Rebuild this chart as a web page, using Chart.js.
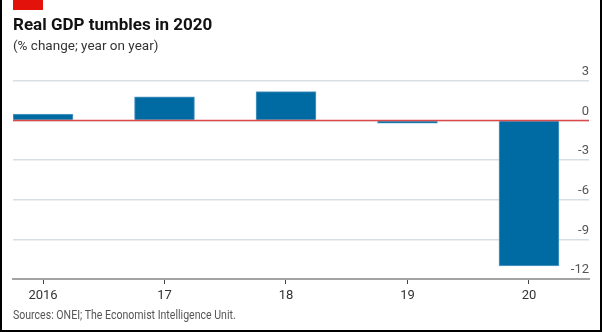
<!DOCTYPE html>
<html>
<head>
<meta charset="utf-8">
<script src="https://cdn.jsdelivr.net/npm/chart.js@4/dist/chart.umd.min.js"></script>
<style>
  html, body { margin: 0; padding: 0; background: #fff; }
  #wrap { position: relative; width: 602px; height: 332px; overflow: hidden; background: #fff; }
  #frame { position: absolute; left: 0; top: -2px; width: 598px; height: 330px; border: 2px solid #000; pointer-events: none; }
  #redbar { position: absolute; left: 13px; top: 0; width: 30px; height: 10px; background: #e3120b; }
  #title { position: absolute; left: 13px; top: 16px; font: bold 17px Roboto, sans-serif; color: #121212; line-height: 17px; white-space: nowrap; }
  #subtitle { position: absolute; left: 13px; top: 38px; font: 13.5px Roboto, sans-serif; color: #333; line-height: 14px; white-space: nowrap; }
  #source { position: absolute; left: 13px; top: 309px; font: 12px Roboto, sans-serif; color: #555; line-height: 12px; white-space: nowrap; transform: scaleX(0.88); transform-origin: 0 0; }
  #chartbox { position: absolute; left: 0; top: 0; width: 602px; height: 332px; }
</style>
</head>
<body>
<div id="wrap">
  <div id="chartbox"><canvas id="c" width="602" height="332"></canvas></div>
  <div id="redbar"></div>
  <div id="title">Real GDP tumbles in 2020</div>
  <div id="subtitle">(% change; year on year)</div>
  <div id="source">Sources: ONEI; The Economist Intelligence Unit.</div>
  <div id="frame"></div>
</div>
<script>
const categories = ["2016", "17", "18", "19", "20"];
const gdpChange = [0.5, 1.8, 2.2, -0.2, -11.0];
const yTicks = [-12, -9, -6, -3, 0, 3];

const zeroLine = {
  id: 'zeroLine',
  afterDatasetsDraw(chart) {
    const { ctx, chartArea, scales } = chart;
    const y = scales.y.getPixelForValue(0);
    ctx.save();
    ctx.strokeStyle = '#dc4a4a';
    ctx.lineWidth = 1.5;
    ctx.beginPath();
    ctx.moveTo(chartArea.left, y);
    ctx.lineTo(chartArea.right, y);
    ctx.stroke();
    ctx.restore();
  }
};

new Chart(document.getElementById('c'), {
  type: 'bar',
  data: {
    datasets: [{
      data: categories.map((c, i) => ({ x: i, y: gdpChange[i] })),
      backgroundColor: '#006ba2',
      borderColor: '#5a9cc6',
      borderWidth: 1,
      barThickness: 60
    }]
  },
  options: {
    responsive: false,
    animation: false,
    events: [],
    layout: { padding: { left: 13, right: 13, top: 81, bottom: 10 } },
    plugins: { legend: { display: false }, tooltip: { enabled: false } },
    scales: {
      x: {
        type: 'linear',
        offset: false,
        min: -0.247,
        max: 4.494,
        afterBuildTicks: (s) => { s.ticks = categories.map((c, i) => ({ value: i })); },
        afterFit: (s) => { s.height = 43; },
        grid: { offset: false, drawOnChartArea: false, drawTicks: true, tickLength: 5, tickColor: '#444', lineWidth: 1 },
        border: { display: true, color: '#a3a3a3', width: 2 },
        ticks: {
          callback: (v) => categories[v],
          font: { family: 'Roboto', size: 13 },
          color: '#333',
          padding: 4,
          maxRotation: 0,
          autoSkip: false
        }
      },
      y: {
        position: 'right',
        min: -12,
        max: 3,
        afterBuildTicks: (s) => { s.ticks = yTicks.map(v => ({ value: v })); },
        afterFit: (s) => { s.width = 0; },
        grid: { color: '#d7dfe5', lineWidth: 1.5, drawTicks: false },
        border: { display: false },
        ticks: {
          mirror: true,
          padding: 0,
          labelOffset: -9,
          font: { family: 'Roboto', size: 13 },
          color: '#555'
        }
      }
    }
  },
  plugins: [zeroLine]
});
</script>
</body>
</html>
